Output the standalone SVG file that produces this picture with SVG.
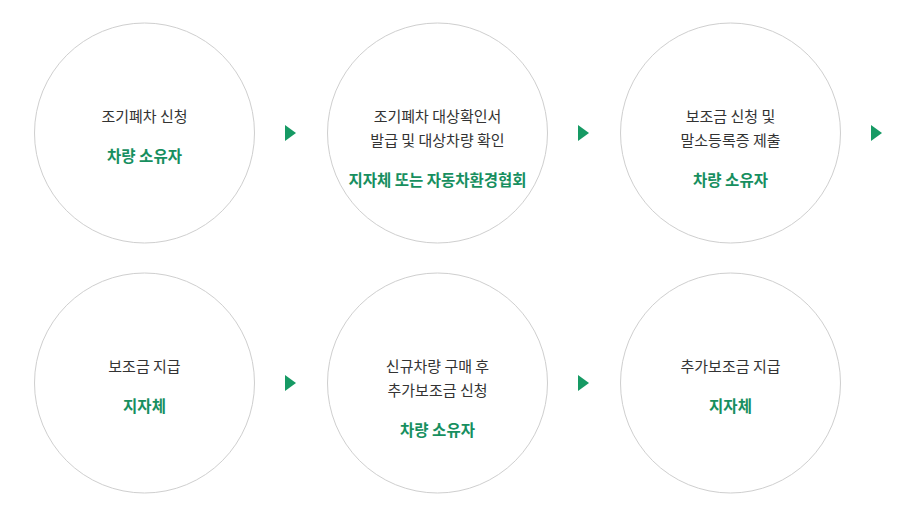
<svg xmlns="http://www.w3.org/2000/svg" width="920" height="510" viewBox="0 0 920 510">
<style>
.c{fill:#fff;stroke:#cfcfcf;stroke-width:1}
text{font-family:"Noto Sans CJK KR","Noto Sans",sans-serif;font-size:15px;text-anchor:middle}
.t{fill:#333}
.g{fill:#178f5f;font-weight:bold;font-size:15.5px}
.a{fill:#169a64}
</style>
<rect width="920" height="510" fill="#fff"/>
<g id="n1"><circle class="c" cx="144.5" cy="133" r="110"/><text class="t" x="144.5" y="122">조기폐차 신청</text><text class="g" x="144.5" y="162">차량 소유자</text></g>
<g id="n2"><circle class="c" cx="437.5" cy="133" r="110"/><text class="t" x="437.5" y="122">조기폐차 대상확인서</text><text class="t" x="437.5" y="146">발급 및 대상차량 확인</text><text class="g" x="437.5" y="186">지자체 또는 자동차환경협회</text></g>
<g id="n3"><circle class="c" cx="730.5" cy="133" r="110"/><text class="t" x="730.5" y="122">보조금 신청 및</text><text class="t" x="730.5" y="146">말소등록증 제출</text><text class="g" x="730.5" y="186">차량 소유자</text></g>
<g id="n4"><circle class="c" cx="144.5" cy="383" r="110"/><text class="t" x="144.5" y="372">보조금 지급</text><text class="g" x="144.5" y="412">지자체</text></g>
<g id="n5"><circle class="c" cx="437.5" cy="383" r="110"/><text class="t" x="437.5" y="372">신규차량 구매 후</text><text class="t" x="437.5" y="396">추가보조금 신청</text><text class="g" x="437.5" y="436">차량 소유자</text></g>
<g id="n6"><circle class="c" cx="730.5" cy="383" r="110"/><text class="t" x="730.5" y="372">추가보조금 지급</text><text class="g" x="730.5" y="412">지자체</text></g>
<g id="connectors">
<polygon class="a" points="285,125 296,133 285,141"/>
<polygon class="a" points="578,125 589,133 578,141"/>
<polygon class="a" points="871,125 882,133 871,141"/>
<polygon class="a" points="285,375 296,383 285,391"/>
<polygon class="a" points="578,375 589,383 578,391"/>
</g>
</svg>
